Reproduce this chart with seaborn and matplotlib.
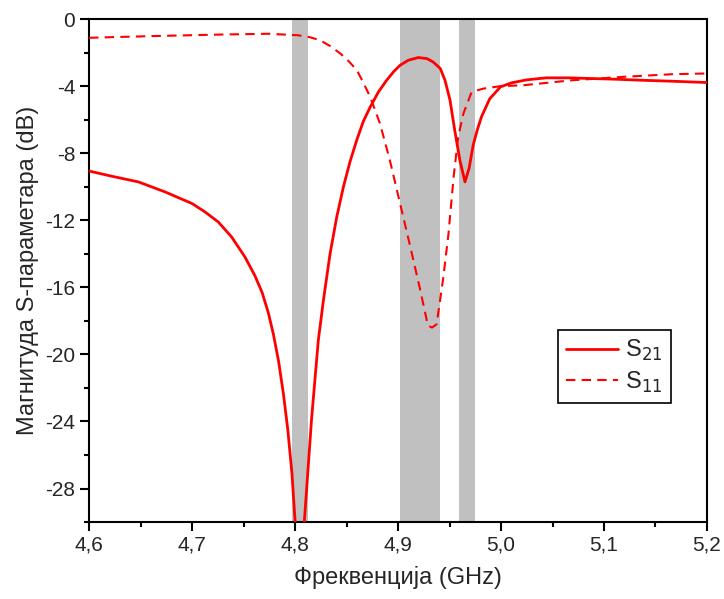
import matplotlib
matplotlib.use("Agg")
import matplotlib.pyplot as plt
import seaborn as sns
import pandas as pd
from matplotlib.ticker import FixedLocator, MultipleLocator

# ---- data ----
freq_s21 = [4.600, 4.622, 4.648, 4.674, 4.700, 4.7126, 4.7255, 4.7385, 4.7515, 4.761,
            4.768, 4.774, 4.779, 4.784, 4.7886, 4.793, 4.797, 4.800, 4.804, 4.809, 4.816,
            4.8226, 4.8275, 4.834, 4.8405, 4.847, 4.8534, 4.860, 4.8663, 4.873, 4.881,
            4.889, 4.8955, 4.902, 4.910, 4.9197, 4.928, 4.934, 4.941, 4.9456, 4.9505,
            4.955, 4.960, 4.965, 4.969, 4.973, 4.977, 4.981, 4.989, 4.9995, 5.010, 5.025,
            5.044, 5.065, 5.087, 5.110, 5.135, 5.165, 5.200]
s21 = [-9.06, -9.37, -9.71, -10.31, -11.0, -11.5, -12.1, -13.0, -14.2, -15.3,
       -16.3, -17.5, -18.8, -20.4, -22.3, -24.5, -27.1, -29.9, -32.0, -30.0, -23.9,
       -19.16, -16.8, -14.0, -11.8, -10.0, -8.5, -7.2, -6.1, -5.24, -4.34,
       -3.64, -3.15, -2.75, -2.45, -2.29, -2.35, -2.55, -2.94, -3.64, -4.84,
       -6.6, -8.4, -9.71, -8.9, -7.5, -6.6, -5.83, -4.75, -4.04, -3.8, -3.62,
       -3.5, -3.5, -3.54, -3.58, -3.64, -3.7, -3.78]

freq_s11 = [4.600, 4.661, 4.726, 4.774, 4.803, 4.814, 4.824, 4.834, 4.844, 4.852,
            4.860, 4.866, 4.873, 4.8825, 4.892, 4.902, 4.912, 4.921, 4.929, 4.933,
            4.9375, 4.944, 4.949, 4.954, 4.9585, 4.9635, 4.9715, 4.983, 4.999, 5.022,
            5.070, 5.119, 5.167, 5.200]
s11 = [-1.11, -1.01, -0.92, -0.87, -0.96, -1.07, -1.25, -1.6, -2.05, -2.5,
       -3.04, -3.75, -4.64, -6.23, -8.4, -11.0, -13.6, -16.0, -18.27, -18.4,
       -18.2, -15.4, -12.8, -9.4, -7.0, -5.63, -4.34, -4.14, -4.0, -3.94,
       -3.64, -3.44, -3.28, -3.24]

bands = [(4.797, 4.813), (4.902, 4.941), (4.959, 4.975)]

x_ticks = [4.6, 4.7, 4.8, 4.9, 5.0, 5.1, 5.2]
x_tick_labels = ["4,6", "4,7", "4,8", "4,9", "5,0", "5,1", "5,2"]
y_ticks = [0, -4, -8, -12, -16, -20, -24, -28]
y_tick_labels = ["0", "-4", "-8", "-12", "-16", "-20", "-24", "-28"]

# ---- plotting ----
sns.set_style("white")
plt.rcParams["font.family"] = ["Liberation Sans", "DejaVu Sans"]

fig = plt.figure(figsize=(7.24, 5.99), dpi=100)
ax = fig.add_axes([0.123, 0.1285, 0.8535, 0.8395])

for a, b in bands:
    ax.axvspan(a, b, color="#c0c0c0", lw=0, zorder=0)

df21 = pd.DataFrame({"f": freq_s21, "v": s21})
df11 = pd.DataFrame({"f": freq_s11, "v": s11})
sns.lineplot(data=df21, x="f", y="v", ax=ax, color="#ff0000", lw=2.0,
             label="S$_{21}$", zorder=3)
sns.lineplot(data=df11, x="f", y="v", ax=ax, color="#ff0000", lw=1.5,
             linestyle=(0, (4.5, 3.0)), label="S$_{11}$", zorder=3)

ax.set_xlim(4.6, 5.2)
ax.set_ylim(-30, 0)
ax.xaxis.set_major_locator(FixedLocator(x_ticks))
ax.set_xticklabels(x_tick_labels)
ax.xaxis.set_minor_locator(MultipleLocator(0.05))
ax.yaxis.set_major_locator(FixedLocator(y_ticks))
ax.set_yticklabels(y_tick_labels)
ax.yaxis.set_minor_locator(MultipleLocator(2))

ax.tick_params(axis="both", which="both", direction="out", bottom=True, left=True,
               top=False, right=False, labelsize=15, width=1.5, color="black")
ax.tick_params(which="major", length=6.5)
ax.tick_params(which="minor", length=3.8)

for s in ax.spines.values():
    s.set_color("black")
    s.set_linewidth(1.5)

ax.set_xlabel("Фреквенција (GHz)", fontsize=17, labelpad=8)
ax.set_ylabel("Магнитуда S-параметара (dB)", fontsize=17, labelpad=4)

leg = ax.legend(loc="upper left", bbox_to_anchor=(0.759, 0.382), fontsize=17,
                frameon=True, fancybox=False, framealpha=1, edgecolor="black",
                borderpad=0.35, labelspacing=0.25, handlelength=2.2,
                handletextpad=0.3, borderaxespad=0)
leg.get_frame().set_linewidth(1.2)

fig.savefig("out.png", dpi=100)
